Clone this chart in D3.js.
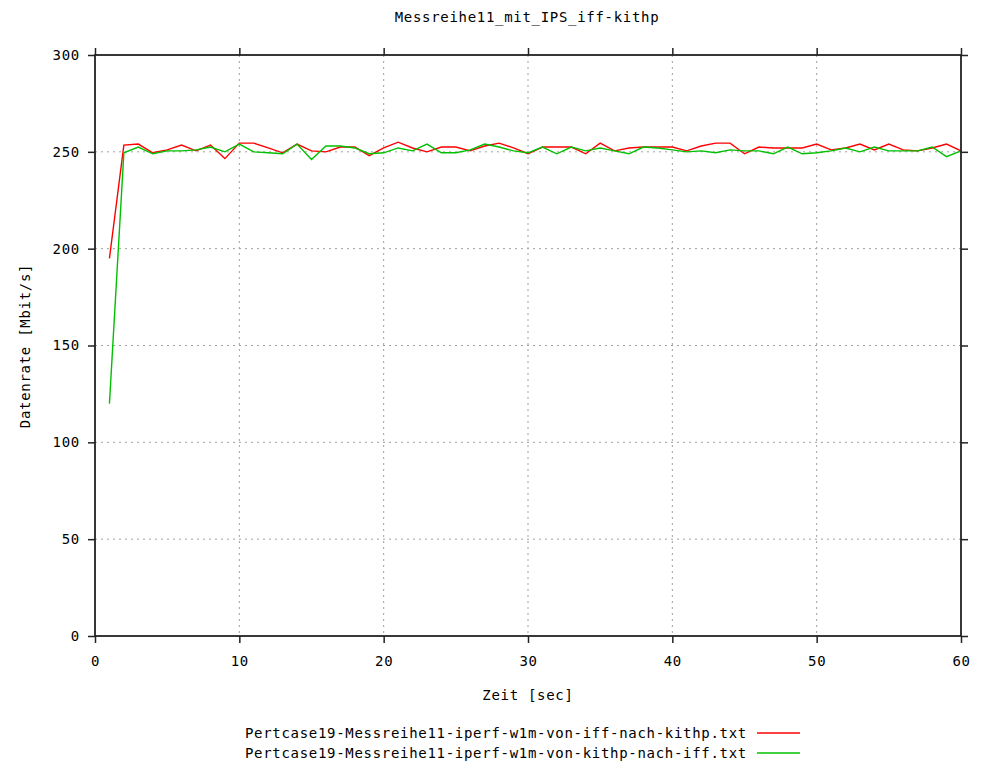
<!DOCTYPE html>
<html><head><meta charset="utf-8">
<script src="https://cdn.jsdelivr.net/npm/d3@7"></script>
<style>
body{margin:0;background:#fff;}
text{font-family:"DejaVu Sans Mono",monospace;font-size:14px;letter-spacing:0.7px;fill:#000;}
</style></head>
<body><svg id="c" width="981" height="765"></svg>
<script>
const title = "Messreihe11_mit_IPS_iff-kithp";
const xLabel = "Zeit [sec]";
const yLabel = "Datenrate [Mbit/s]";
const seriesNames = ["Pertcase19-Messreihe11-iperf-w1m-von-iff-nach-kithp.txt",
                     "Pertcase19-Messreihe11-iperf-w1m-von-kithp-nach-iff.txt"];
const seriesColors = ["#ff0000", "#00c000"];
const xTicks = [0,10,20,30,40,50,60];
const yTicks = [0,50,100,150,200,250,300];
const times = d3.range(1, 61);
const redValues = [195,253.5,254,249.5,251,253.5,250.5,253.5,246.5,254.5,254.5,252,249.5,254,250.5,250,252.5,252.5,248,252,255,252,250,252.5,252.5,250.5,253,254.5,252,249,252.5,252.5,252.5,249,254.5,250.5,252,252.5,252.5,252.5,250.5,253,254.5,254.5,249,252.5,252,252,252,254,251,252,254,251,254,251,250.5,252,254,250.5];
const greenValues = [120,249.5,252.5,249,250.5,250.5,251,252.5,250,254,250,249.5,249,254,246,253,253,252,249,249.5,252,250.5,254,249.5,249.5,251,254,252.5,250.5,249.5,252.5,249,252.5,250.5,252,250.5,249,252.5,252,251,250,250.5,249.5,251,250.5,250.5,249,252.5,249,249.5,250.5,252,250,252.5,250.5,250.5,250.5,252.5,247.5,250.5];

const svg = d3.select("#c");
const L=95, R=961, T=55, B=636;
const x = d3.scaleLinear().domain([0,60]).range([L,R]);
const y = d3.scaleLinear().domain([0,300]).range([B,T]);

// grid
const g = svg.append("g");
g.selectAll(".gx").data(xTicks.slice(1,-1)).enter().append("line")
 .attr("x1",d=>x(d)).attr("x2",d=>x(d)).attr("y1",T).attr("y2",B)
 .attr("stroke","#a0a0a0").attr("stroke-width",1).attr("stroke-dasharray","2,4");
g.selectAll(".gy").data(yTicks.slice(1,-1)).enter().append("line")
 .attr("y1",d=>y(d)).attr("y2",d=>y(d)).attr("x1",L).attr("x2",R)
 .attr("stroke","#a0a0a0").attr("stroke-width",1).attr("stroke-dasharray","2,4");

// lines
const line = d3.line().x((d,i)=>x(times[i])).y(d=>y(d));
[redValues, greenValues].forEach((vals,k)=>{
  svg.append("path").datum(vals).attr("d",line).attr("fill","none")
   .attr("stroke",seriesColors[k]).attr("stroke-width",1.4);
});

// axes with outward ticks (mirrored)
const tickFmt = d3.format("d");
const axB = svg.append("g").attr("transform",`translate(0,${B})`)
  .call(d3.axisBottom(x).tickValues(xTicks).tickSize(7).tickPadding(13).tickFormat(tickFmt));
const axT = svg.append("g").attr("transform",`translate(0,${T})`)
  .call(d3.axisTop(x).tickValues(xTicks).tickSize(7).tickFormat(""));
const axL = svg.append("g").attr("transform",`translate(${L},0)`)
  .call(d3.axisLeft(y).tickValues(yTicks).tickSize(7).tickPadding(8).tickFormat(tickFmt));
const axR = svg.append("g").attr("transform",`translate(${R},0)`)
  .call(d3.axisRight(y).tickValues(yTicks).tickSize(7).tickFormat(""));
[axB,axT,axL,axR].forEach(a=>{
  a.select(".domain").remove();
  a.selectAll(".tick line").attr("stroke","#222").attr("stroke-width",1.5);
  a.selectAll("text").style("font-family",'"DejaVu Sans Mono",monospace').style("font-size","14px").style("letter-spacing","0.7px").attr("fill","#000");
});
svg.append("rect").attr("x",L).attr("y",T).attr("width",R-L).attr("height",B-T)
 .attr("fill","none").attr("stroke","#222").attr("stroke-width",1.8);

// labels
svg.append("text").attr("x",527).attr("y",22).attr("text-anchor","middle").text(title);
svg.append("text").attr("x",528).attr("y",700).attr("text-anchor","middle").text(xLabel);
svg.append("text").attr("transform","translate(30,346) rotate(-90)").attr("text-anchor","middle").text(yLabel);

// legend
seriesNames.forEach((n,i)=>{
  const yy = 733 + i*20;
  svg.append("text").attr("x",747).attr("y",yy+5).attr("text-anchor","end").text(n);
  svg.append("line").attr("x1",757).attr("x2",800).attr("y1",yy).attr("y2",yy)
   .attr("stroke",seriesColors[i]).attr("stroke-width",1.4);
});
</script></body></html>
